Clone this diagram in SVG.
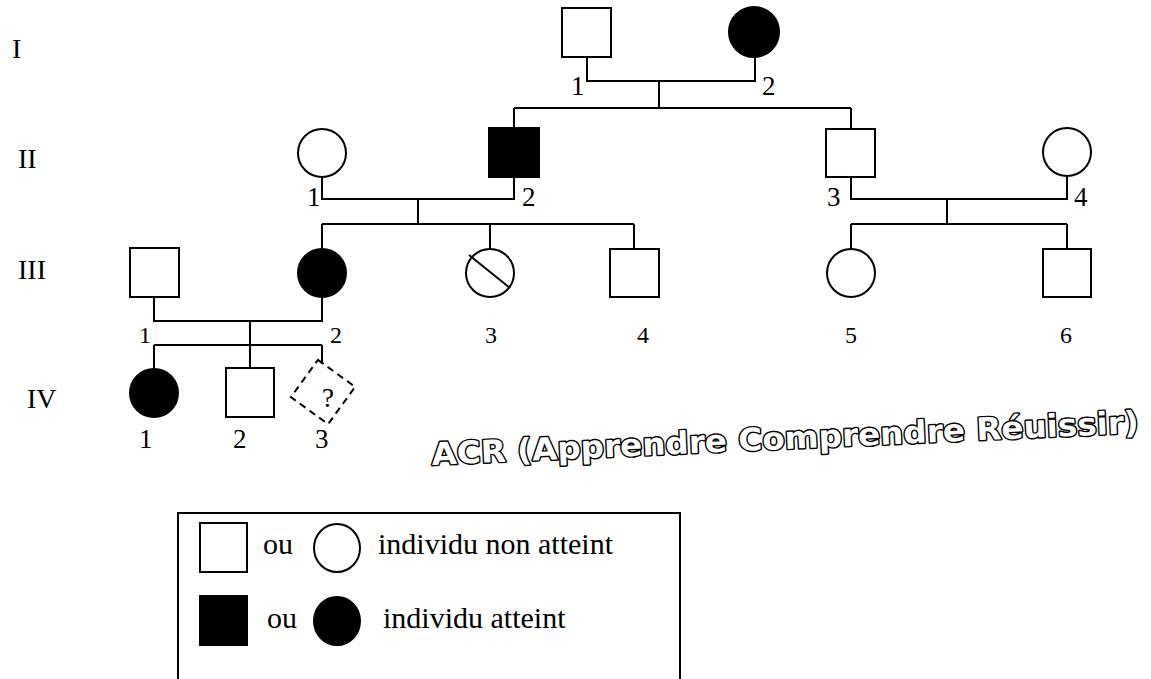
<svg xmlns="http://www.w3.org/2000/svg" width="1151" height="679" viewBox="0 0 1151 679">
<style>
.sym{fill:#fff;stroke:#000;stroke-width:2}
.aff{fill:#000;stroke:#000;stroke-width:2}
.ln{fill:none;stroke:#000;stroke-width:2}
.t{font-family:"Liberation Serif","Times New Roman",serif;fill:#000}
.lab{font-size:27px}
.lab3{font-size:24px}
.gen{font-size:28px}
.leg{font-size:30px}
.wm{font-family:"DejaVu Sans",sans-serif;font-weight:bold;font-size:31px;fill:#fff;stroke:#000;stroke-width:2.8;stroke-linejoin:round;paint-order:stroke}
</style>
<rect width="1151" height="679" fill="#fff"/>
<g id="generations" class="t gen">
<text x="12" y="58">I</text>
<text x="18" y="168">II</text>
<text x="18" y="279">III</text>
<text x="27" y="408">IV</text>
</g>
<g id="connectors" class="ln">
<polyline points="587,57 587,81 755,81 755,57"/>
<line x1="659" y1="81" x2="659" y2="108"/>
<line x1="514" y1="108" x2="851" y2="108"/>
<line x1="514" y1="108" x2="514" y2="128"/>
<line x1="851" y1="108" x2="851" y2="129"/>
<polyline points="322,177 322,199 514,199 514,177"/>
<line x1="418" y1="199" x2="418" y2="224"/>
<line x1="322" y1="224" x2="634" y2="224"/>
<line x1="322" y1="224" x2="322" y2="249"/>
<line x1="490" y1="224" x2="490" y2="249"/>
<line x1="634" y1="224" x2="634" y2="249"/>
<polyline points="851,177 851,199 1067,199 1067,176"/>
<line x1="947" y1="199" x2="947" y2="224"/>
<line x1="851" y1="224" x2="1067" y2="224"/>
<line x1="851" y1="224" x2="851" y2="249"/>
<line x1="1067" y1="224" x2="1067" y2="249"/>
<polyline points="154,297 154,321 322,321 322,297"/>
<line x1="250" y1="321" x2="250" y2="345"/>
<line x1="154" y1="345" x2="322" y2="345"/>
<line x1="154" y1="345" x2="154" y2="369"/>
<line x1="250" y1="345" x2="250" y2="368"/>
<line x1="322" y1="345" x2="322" y2="364"/>
</g>
<g id="I-1"><rect class="sym" x="562" y="8" width="49" height="49"/><text class="t lab" x="571" y="95">1</text></g>
<g id="I-2"><circle class="aff" cx="754" cy="32" r="25"/><text class="t lab" x="762" y="95">2</text></g>
<g id="II-1"><circle class="sym" cx="322" cy="153" r="24"/><text class="t lab" x="307" y="206">1</text></g>
<g id="II-2"><rect class="aff" x="489" y="128" width="50" height="49"/><text class="t lab" x="522" y="206">2</text></g>
<g id="II-3"><rect class="sym" x="826" y="129" width="49" height="48"/><text class="t lab" x="827" y="206">3</text></g>
<g id="II-4"><circle class="sym" cx="1067" cy="152" r="24"/><text class="t lab" x="1074" y="206">4</text></g>
<g id="III-1"><rect class="sym" x="130" y="248" width="49" height="49"/><text class="t lab3" x="139" y="343">1</text></g>
<g id="III-2"><circle class="aff" cx="322" cy="273" r="24"/><text class="t lab3" x="330" y="343">2</text></g>
<g id="III-3"><circle class="sym" cx="490" cy="273" r="24"/><line class="ln" x1="469" y1="255" x2="510" y2="288"/><text class="t lab3" x="485" y="343">3</text></g>
<g id="III-4"><rect class="sym" x="610" y="249" width="49" height="48"/><text class="t lab3" x="637" y="343">4</text></g>
<g id="III-5"><circle class="sym" cx="851" cy="273" r="24"/><text class="t lab3" x="845" y="343">5</text></g>
<g id="III-6"><rect class="sym" x="1043" y="249" width="48" height="48"/><text class="t lab3" x="1060" y="343">6</text></g>
<g id="IV-1"><circle class="aff" cx="154" cy="393" r="24"/><text class="t lab" x="139" y="448">1</text></g>
<g id="IV-2"><rect class="sym" x="226" y="368" width="48" height="49"/><text class="t lab" x="233" y="448">2</text></g>
<g id="IV-3"><rect x="-23" y="-23" width="46" height="46" fill="none" stroke="#000" stroke-width="2" stroke-dasharray="7,5" transform="translate(323,392) rotate(36)"/><text class="t lab" x="322" y="407">?</text><text class="t lab" x="315" y="448">3</text></g>
<g id="watermark"><text class="wm" x="432" y="465" textLength="708" lengthAdjust="spacingAndGlyphs" transform="rotate(-2.6 432 465)">ACR (Apprendre Comprendre Réuissir)</text></g>
<g id="legend">
<polyline class="ln" points="178,690 178,513 680,513 680,690"/>
<rect class="sym" x="200" y="523" width="47" height="49"/>
<ellipse class="sym" cx="337" cy="548" rx="23" ry="24"/>
<text class="t leg" x="263" y="554">ou</text>
<text class="t leg" x="378" y="554">individu non atteint</text>
<rect class="aff" x="200" y="596" width="47" height="49"/>
<ellipse class="aff" cx="337" cy="621" rx="23" ry="24"/>
<text class="t leg" x="267" y="628">ou</text>
<text class="t leg" x="383" y="628">individu atteint</text>
</g>
</svg>
